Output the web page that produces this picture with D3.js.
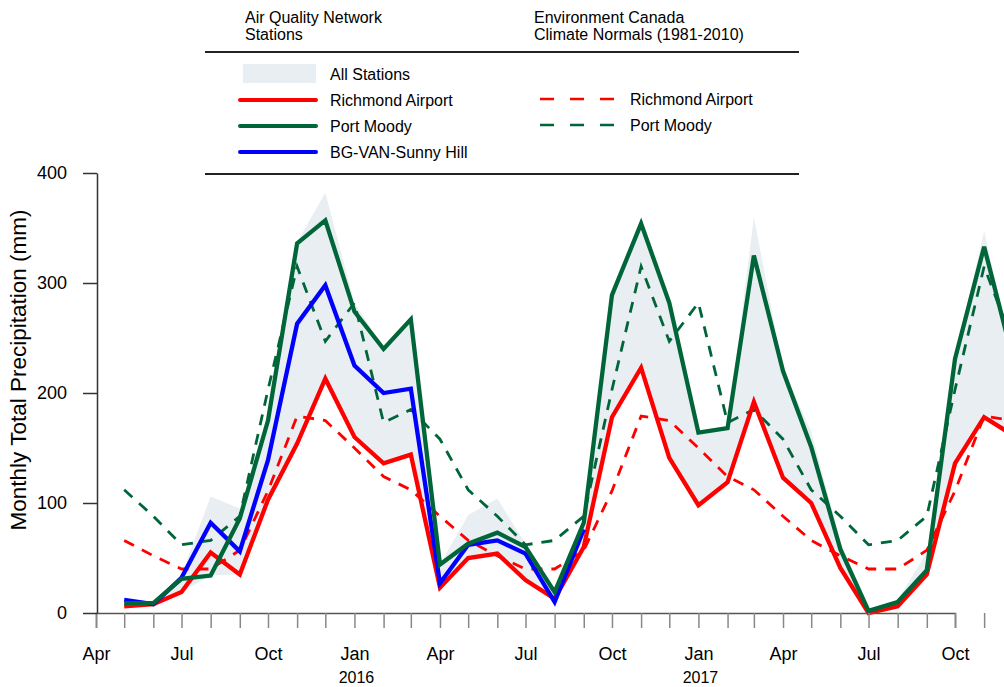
<!DOCTYPE html>
<html>
<head>
<meta charset="utf-8">
<script src="https://cdn.jsdelivr.net/npm/d3@7"></script>
<style>
    body { margin: 0; background: #fff; }
    svg { display: block; font-family: "Liberation Sans", Arial, sans-serif; }
</style>
</head>
<body>
<svg id="svg" width="1004" height="687"></svg>
<script>
// monthly totals, May 2015 - Dec 2017
const months = [
    "2015-05", "2015-06", "2015-07", "2015-08", "2015-09", "2015-10", "2015-11", "2015-12",
    "2016-01", "2016-02", "2016-03", "2016-04", "2016-05", "2016-06", "2016-07", "2016-08",
    "2016-09", "2016-10", "2016-11", "2016-12", "2017-01", "2017-02", "2017-03", "2017-04",
    "2017-05", "2017-06", "2017-07", "2017-08", "2017-09", "2017-10", "2017-11", "2017-12"
];
const richmond = [6, 8, 19, 55, 35, 103, 154, 213, 160, 136, 144, 23, 50, 54, 30, 13,
    60, 178, 223, 141, 98, 119, 192, 123, 100, 41, 0, 6, 35, 136, 178, 162];
const portMoody = [9, 9, 31, 34, 86, 175, 336, 357, 274, 240, 267, 44, 63, 73, 60, 19,
    82, 289, 354, 282, 164, 168, 325, 220, 151, 58, 2, 10, 39, 231, 333, 233];
// Sunny Hill stops after Sep 2016
const sunnyHill = [12, 8, 32, 82, 56, 139, 263, 298, 225, 200, 204, 27, 62, 66, 54, 10, 76];
// all stations range
const allHigh = [12, 9, 35, 106, 95, 176, 337, 382, 282, 241, 267, 44, 89, 104, 63, 19,
    82, 289, 354, 282, 164, 168, 360, 222, 165, 66, 3, 12, 55, 232, 347, 235];
const allLow = [6, 8, 19, 34, 35, 103, 154, 213, 160, 136, 144, 23, 50, 54, 30, 10,
    60, 178, 223, 141, 98, 119, 192, 123, 100, 41, 0, 6, 35, 136, 178, 162];

// climate normals 1981-2010, Jan..Dec
const normalRichmond = [150, 124, 112, 88, 66, 52, 40, 40, 57, 111, 179, 175];
const normalPortMoody = [282, 173, 185, 158, 112, 88, 62, 66, 88, 203, 315, 247];

const yTicks = [0, 100, 200, 300, 400];
const monthNames = ["Jan", "Feb", "Mar", "Apr", "May", "Jun", "Jul", "Aug", "Sep", "Oct", "Nov", "Dec"];
const yearLabels = ["2016", "2017"];

const red = "#ff0000";
const green = "#00663a";
const blue = "#0000ff";
const bandFill = "#e9eef3";

let parseMonth = d3.utcParse("%Y-%m");

let rows = months.map((m, i) => {
    let date = parseMonth(m);
    return {
        date: date,
        richmond: richmond[i],
        portMoody: portMoody[i],
        sunnyHill: i < sunnyHill.length ? sunnyHill[i] : null,
        high: allHigh[i],
        low: allLow[i],
        nRichmond: normalRichmond[date.getUTCMonth()],
        nPortMoody: normalPortMoody[date.getUTCMonth()]
    };
});

let svg = d3.select("#svg");

let xScale = d3.scaleUtc()
    .domain([new Date(Date.UTC(2015, 3, 1)), new Date(Date.UTC(2017, 9, 1))])
    .range([96, 955]);

let yScale = d3.scaleLinear()
    .domain([0, 400])
    .range([613, 173]);

// band for all stations
let band = d3.area()
    .x(d => xScale(d.date))
    .y0(d => yScale(d.low))
    .y1(d => yScale(d.high));

svg.append("path")
    .datum(rows)
    .attr("fill", bandFill)
    .attr("d", band);

let lineOf = key => d3.line()
    .defined(d => d[key] != null)
    .x(d => xScale(d.date))
    .y(d => yScale(d[key]));

// normals (dashed)
svg.append("path")
    .datum(rows)
    .attr("fill", "none")
    .attr("stroke", green)
    .attr("stroke-width", 2.8)
    .attr("stroke-dasharray", "11,9")
    .attr("d", lineOf("nPortMoody"));

svg.append("path")
    .datum(rows)
    .attr("fill", "none")
    .attr("stroke", red)
    .attr("stroke-width", 2.8)
    .attr("stroke-dasharray", "11,9")
    .attr("d", lineOf("nRichmond"));

// station lines
[["richmond", red], ["sunnyHill", blue], ["portMoody", green]].forEach(([key, col]) => {
    svg.append("path")
        .datum(rows)
        .attr("fill", "none")
        .attr("stroke", col)
        .attr("stroke-width", 4.3)
        .attr("stroke-linejoin", "miter")
        .attr("d", lineOf(key));
});

// x axis, monthly ticks, label every 3 months
let xAxis = d3.axisBottom(xScale)
    .tickValues(d3.utcMonth.range(new Date(Date.UTC(2015, 3, 1)), new Date(Date.UTC(2018, 0, 1))))
    .tickSize(15)
    .tickPadding(19)
    .tickFormat(d => d.getUTCMonth() % 3 == 0 ? monthNames[d.getUTCMonth()] : "");

let gx = svg.append("g")
    .attr("transform", "translate(0,613)")
    .call(xAxis);
gx.select(".domain").attr("stroke", "#555").attr("stroke-width", 1.5);
gx.selectAll(".tick line").attr("stroke", "#888").attr("stroke-width", 1.5);
gx.selectAll(".tick text").attr("font-size", 18).attr("fill", "#000")
    .attr("font-family", "Liberation Sans, Arial, sans-serif");

// year labels under January
svg.selectAll(".year")
    .data(yearLabels)
    .enter().append("text")
    .attr("x", d => xScale(new Date(Date.UTC(+d, 0, 1))) + 2)
    .attr("y", 683)
    .attr("text-anchor", "middle")
    .attr("font-size", 16)
    .text(d => d);

// y axis
let yAxis = d3.axisLeft(yScale)
    .tickValues(yTicks)
    .tickSize(14)
    .tickPadding(16)
    .tickSizeOuter(0);

let gy = svg.append("g")
    .attr("transform", "translate(97,0)")
    .call(yAxis);
gy.select(".domain").attr("stroke", "#333").attr("stroke-width", 1.5);
gy.selectAll(".tick line").attr("stroke", "#333").attr("stroke-width", 1.5);
gy.selectAll(".tick text").attr("font-size", 18).attr("fill", "#000")
    .attr("font-family", "Liberation Sans, Arial, sans-serif");

svg.append("text")
    .attr("transform", "translate(26,370) rotate(-90)")
    .attr("text-anchor", "middle")
    .attr("font-size", 22.5)
    .text("Monthly Total Precipitation (mm)");

// legend
let legend = svg.append("g");

[[52], [174]].forEach(([yy]) => {
    legend.append("line")
        .attr("x1", 205).attr("x2", 799)
        .attr("y1", yy).attr("y2", yy)
        .attr("stroke", "#222").attr("stroke-width", 2);
});

let header = (x, lines) => {
    lines.forEach((t, i) => {
        legend.append("text")
            .attr("x", x).attr("y", 23 + i * 17)
            .attr("font-size", 16)
            .text(t);
    });
};
header(245, ["Air Quality Network", "Stations"]);
header(534, ["Environment Canada", "Climate Normals (1981-2010)"]);

legend.append("rect")
    .attr("x", 243).attr("y", 64)
    .attr("width", 73).attr("height", 19)
    .attr("fill", bandFill);
legend.append("text")
    .attr("x", 330).attr("y", 80)
    .attr("font-size", 16)
    .text("All Stations");

let solidItems = [["Richmond Airport", red], ["Port Moody", green], ["BG-VAN-Sunny Hill", blue]];
solidItems.forEach(([name, col], i) => {
    let yy = 100 + i * 26;
    legend.append("line")
        .attr("x1", 240).attr("x2", 316)
        .attr("y1", yy).attr("y2", yy)
        .attr("stroke", col).attr("stroke-width", 4).attr("stroke-linecap", "round");
    legend.append("text")
        .attr("x", 330).attr("y", yy + 6)
        .attr("font-size", 16)
        .text(name);
});

let dashItems = [["Richmond Airport", red], ["Port Moody", green]];
dashItems.forEach(([name, col], i) => {
    let yy = 99 + i * 26;
    legend.append("line")
        .attr("x1", 540).attr("x2", 614)
        .attr("y1", yy).attr("y2", yy)
        .attr("stroke", col).attr("stroke-width", 2.5)
        .attr("stroke-dasharray", "14,16");
    legend.append("text")
        .attr("x", 630).attr("y", yy + 6)
        .attr("font-size", 16)
        .text(name);
});
</script>
</body>
</html>
